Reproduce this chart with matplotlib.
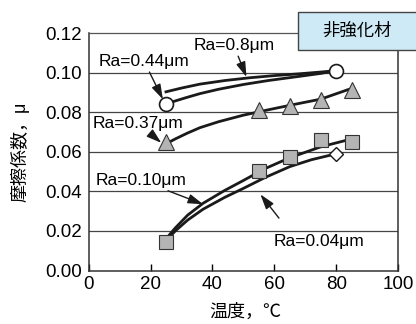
import matplotlib.pyplot as plt
from matplotlib.patches import Rectangle

plt.rcParams['font.family'] = ['Liberation Sans', 'Noto Sans CJK JP', 'DejaVu Sans']

# measured points
t_circle = [25, 80]
mu_circle = [0.084, 0.101]
t_tri = [25, 55, 65, 75, 85]
mu_tri = [0.065, 0.081, 0.083, 0.086, 0.091]
t_sq = [25, 55, 65, 75, 85]
mu_sq = [0.0145, 0.0505, 0.0575, 0.066, 0.065]
t_dia = [80]
mu_dia = [0.059]

# fitted curves
t_r08 = [25, 30, 36, 44, 52, 60, 68, 75, 80]
mu_r08 = [0.0903, 0.0922, 0.0942, 0.0960, 0.0974, 0.0985, 0.0994, 0.1003, 0.101]
t_r044 = [25, 28, 32, 36, 42, 50, 58, 68, 75, 80]
mu_r044 = [0.084, 0.0857, 0.0876, 0.0894, 0.0916, 0.0940, 0.0960, 0.0981, 0.0996, 0.101]
t_r037 = [25, 28, 32, 36, 42, 50, 58, 66, 75, 84]
mu_r037 = [0.064, 0.0665, 0.0695, 0.0722, 0.0752, 0.0785, 0.0812, 0.0838, 0.0866, 0.0915]
t_r010 = [25, 28, 32, 37, 44, 50, 57, 65, 75, 85]
mu_r010 = [0.016, 0.0215, 0.028, 0.034, 0.0405, 0.0455, 0.0515, 0.057, 0.0625, 0.0665]
t_r004 = [25, 28, 32, 37, 44, 50, 57, 65, 72, 80]
mu_r004 = [0.015, 0.020, 0.0255, 0.031, 0.037, 0.0415, 0.047, 0.0525, 0.056, 0.059]

fig = plt.figure(figsize=(4.16, 3.24), dpi=100)
ax = fig.add_axes([0.213, 0.165, 0.744, 0.733])

for yv in [0.02, 0.04, 0.06, 0.08, 0.10]:
    ax.axhline(yv, color='#444444', lw=0.9, zorder=1)

lc = '#1a1a1a'
ax.plot(t_r08, mu_r08, color=lc, lw=2, zorder=2)
ax.plot(t_r044, mu_r044, color=lc, lw=2, zorder=2)
ax.plot(t_r037, mu_r037, color=lc, lw=2, zorder=2)
ax.plot(t_r010, mu_r010, color=lc, lw=2, zorder=2)
ax.plot(t_r004, mu_r004, color=lc, lw=2, zorder=2)

ax.plot(t_circle, mu_circle, 'o', ms=10, mfc='white', mec=lc, mew=1.2, zorder=3)
ax.plot(t_tri, mu_tri, '^', ms=12, mfc='#b4b4b4', mec='#333333', mew=0.8, zorder=3)
ax.plot(t_sq, mu_sq, 's', ms=10, mfc='#b4b4b4', mec='#333333', mew=0.8, zorder=3)
ax.plot(t_dia, mu_dia, 'D', ms=7, mfc='white', mec=lc, mew=1.0, zorder=3)

arr = dict(arrowstyle='-|>,head_length=0.7,head_width=0.22', color=lc, lw=1,
           mutation_scale=13, shrinkA=0, shrinkB=0)
fs = 12.5
ax.annotate('Ra=0.8μm', xy=(51, 0.0978), xytext=(47, 0.1135), fontsize=fs,
            ha='center', va='center', arrowprops=arr)
ax.annotate('Ra=0.44μm', xy=(24, 0.0865), xytext=(18, 0.1055), fontsize=fs,
            ha='center', va='center', arrowprops=arr)
ax.annotate('Ra=0.37μm', xy=(23.5, 0.0645), xytext=(16, 0.0745), fontsize=fs,
            ha='center', va='center', arrowprops=arr)
ax.annotate('Ra=0.10μm', xy=(37, 0.0335), xytext=(17, 0.0455), fontsize=fs,
            ha='center', va='center', arrowprops=arr)
ax.annotate('', xy=(55.5, 0.0385), xytext=(61.5, 0.0265), arrowprops=arr)
ax.text(74.5, 0.0145, 'Ra=0.04μm', fontsize=fs, ha='center', va='center')

ax.set_xlim(0, 100)
ax.set_ylim(0, 0.12)
ax.set_xticks([0, 20, 40, 60, 80, 100])
ax.set_yticks([0, 0.02, 0.04, 0.06, 0.08, 0.10, 0.12])
ax.set_yticklabels(['0.00', '0.02', '0.04', '0.06', '0.08', '0.10', '0.12'])
ax.tick_params(axis='x', direction='in', length=5, width=1, labelsize=13.5, pad=4)
ax.tick_params(axis='y', length=0, labelsize=13.5, pad=5)
for s in ax.spines.values():
    s.set_color('#333333')
    s.set_linewidth(1.1)
ax.spines['top'].set_color('#555555')
ax.spines['top'].set_linewidth(0.9)

fig.text(0.589, 0.037, '温度，℃', fontsize=13, ha='center', va='center')
fig.text(0.048, 0.531, '摩擦係数，μ', fontsize=13, ha='center', va='center',
         rotation=90)

fig.add_artist(Rectangle((0.716, 0.846), 0.3, 0.117, transform=fig.transFigure,
                         facecolor='#cdeaf6', edgecolor='#444444', lw=1, zorder=5))
fig.text(0.858, 0.905, '非強化材', fontsize=12.5, ha='center', va='center', zorder=6)

fig.savefig('out.png', dpi=100)
